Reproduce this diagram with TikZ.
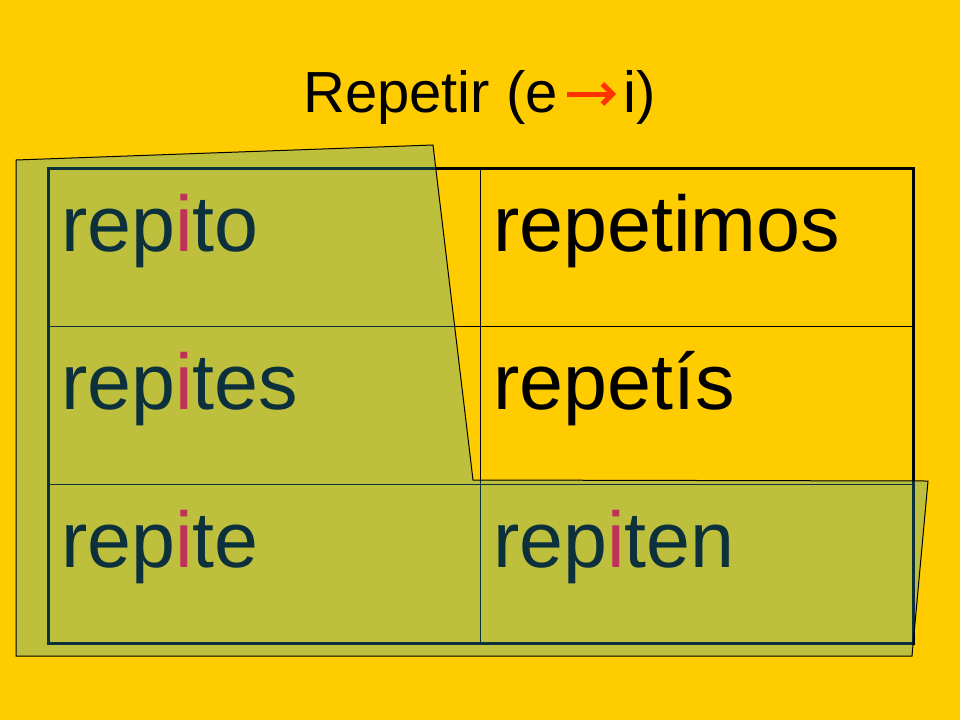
\documentclass[tikz,border=0pt]{standalone}
\usepackage{fontspec}
\setmainfont{Liberation Sans}
\usetikzlibrary{arrows.meta}
\definecolor{bgyellow}{RGB}{255,204,0}
\definecolor{overlaycol}{RGB}{40,165,205}
\definecolor{redi}{RGB}{255,0,40}
\definecolor{arrowred}{RGB}{255,51,0}
\tikzset{
  cell/.style={anchor=base west,inner sep=0pt,font=\fontsize{79}{90}\selectfont},
  ttl/.style={inner sep=0pt,font=\fontsize{58}{68}\selectfont},
  overlay/.style={fill=overlaycol,fill opacity=0.3,draw=black,line width=1pt},
}
\newcommand{\ri}{\textcolor{redi}{i}}
\begin{document}
\begin{tikzpicture}[x=1pt,y=-1pt]
\fill[bgyellow] (0,0) rectangle (960,720);
\useasboundingbox (0,0) rectangle (960,720);
% title
\node[ttl,anchor=base east] (t1) at (558,112) {Repetir (e};
\node[ttl,anchor=base west] (t2) at (623,112) {i)};
\coordinate (a1) at (567,94);
\coordinate (a2) at (616,94);
\draw[arrowred,line width=5pt,-{Straight Barb[length=10pt,width=20pt]}] (a1) -- (a2);
% table lines
\draw[black,line width=1pt] (480,168) -- (480,643);
\draw[black,line width=1pt] (48,326) -- (913,326);
\draw[black,line width=1pt] (48,484) -- (913,484);
\draw[black,line width=3pt] (48,168) rectangle (913,643);
% cells
\node[cell] (c11) at (61,251) {rep\ri to};
\node[cell] (c12) at (493,251) {repetimos};
\node[cell] (c21) at (61,409) {rep\ri tes};
\node[cell] (c22) at (493,409) {repetís};
\node[cell] (c31) at (61,567) {rep\ri te};
\node[cell] (c32) at (493,567) {rep\ri ten};
% overlay polygon
\path[overlay] (16,160) -- (433,145) -- (473,480) -- (928,481) -- (912,656) -- (16,656) -- cycle;
\end{tikzpicture}
\end{document}
